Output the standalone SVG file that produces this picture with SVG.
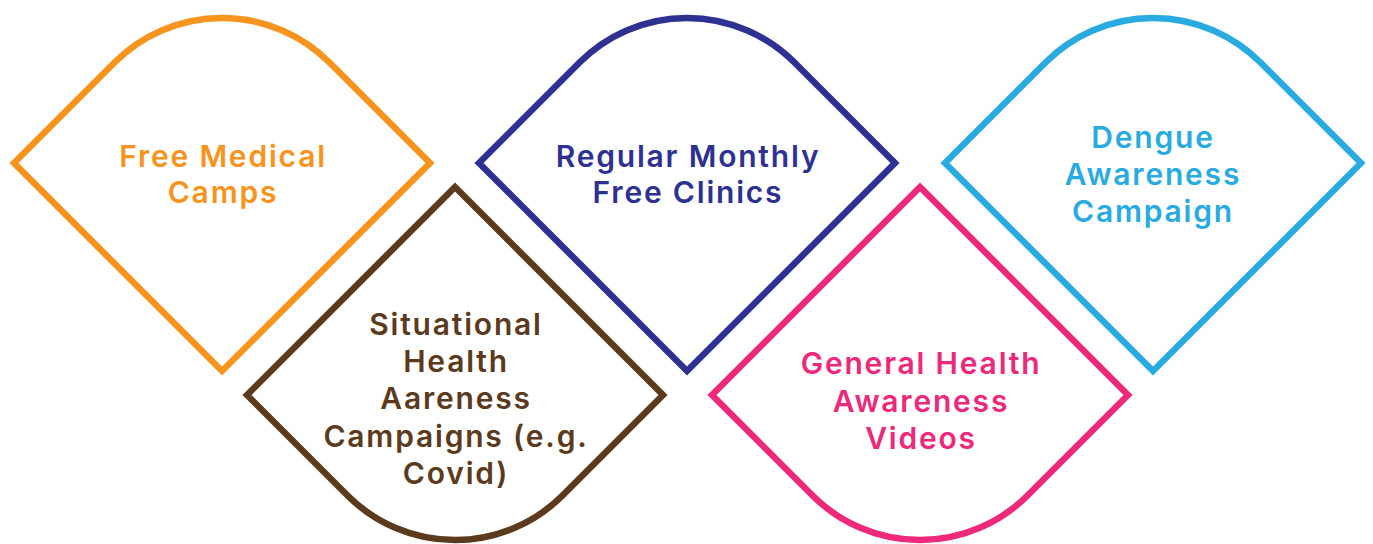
<svg xmlns="http://www.w3.org/2000/svg" width="1373" height="544" viewBox="0 0 1373 544">
<style>
.shape{fill:#ffffff;stroke-width:6.5;stroke-linejoin:miter;stroke-miterlimit:10}
.lbl{font-family:Inter,"Open Sans","Noto Sans",sans-serif;font-weight:600;font-size:30px;letter-spacing:1.8px;text-anchor:middle}
</style>
<rect width="1373" height="544" fill="#ffffff"/>
<g id="connectors"/>
<g id="node-free-medical-camps">
<path class="shape" stroke="#F7941D" d="M14,163 L114.5,62.5 A152 152 0 0 1 329.5,62.5 L430,163 L222,371 Z"/>
<text class="lbl" fill="#F7941D" x="223" y="167">Free Medical</text>
<text class="lbl" fill="#F7941D" x="223" y="203">Camps</text>
</g>
<g id="node-regular-monthly">
<path class="shape" stroke="#2E3192" d="M479,163 L579.5,62.5 A152 152 0 0 1 794.5,62.5 L895,163 L687,371 Z"/>
<text class="lbl" fill="#2E3192" x="688" y="167">Regular Monthly</text>
<text class="lbl" fill="#2E3192" x="688" y="203">Free Clinics</text>
</g>
<g id="node-dengue">
<path class="shape" stroke="#29ABE2" d="M945,163 L1045.5,62.5 A152 152 0 0 1 1260.5,62.5 L1361,163 L1153,371 Z"/>
<text class="lbl" fill="#29ABE2" x="1153" y="148">Dengue</text>
<text class="lbl" fill="#29ABE2" x="1153" y="185">Awareness</text>
<text class="lbl" fill="#29ABE2" x="1153" y="222">Campaign</text>
</g>
<g id="node-situational">
<path class="shape" stroke="#5B3A1D" d="M455,187 L663,395 L562.5,495.5 A152 152 0 0 1 347.5,495.5 L247,395 Z"/>
<text class="lbl" fill="#5B3A1D" x="456" y="335">Situational</text>
<text class="lbl" fill="#5B3A1D" x="456" y="372">Health</text>
<text class="lbl" fill="#5B3A1D" x="456" y="409">Aareness</text>
<text class="lbl" fill="#5B3A1D" x="456" y="447">Campaigns (e.g.</text>
<text class="lbl" fill="#5B3A1D" x="456" y="484">Covid)</text>
</g>
<g id="node-general-health">
<path class="shape" stroke="#EC297B" d="M920,187 L1128,395 L1027.5,495.5 A152 152 0 0 1 812.5,495.5 L712,395 Z"/>
<text class="lbl" fill="#EC297B" x="921" y="374">General Health</text>
<text class="lbl" fill="#EC297B" x="921" y="412">Awareness</text>
<text class="lbl" fill="#EC297B" x="921" y="449">Videos</text>
</g>
</svg>
